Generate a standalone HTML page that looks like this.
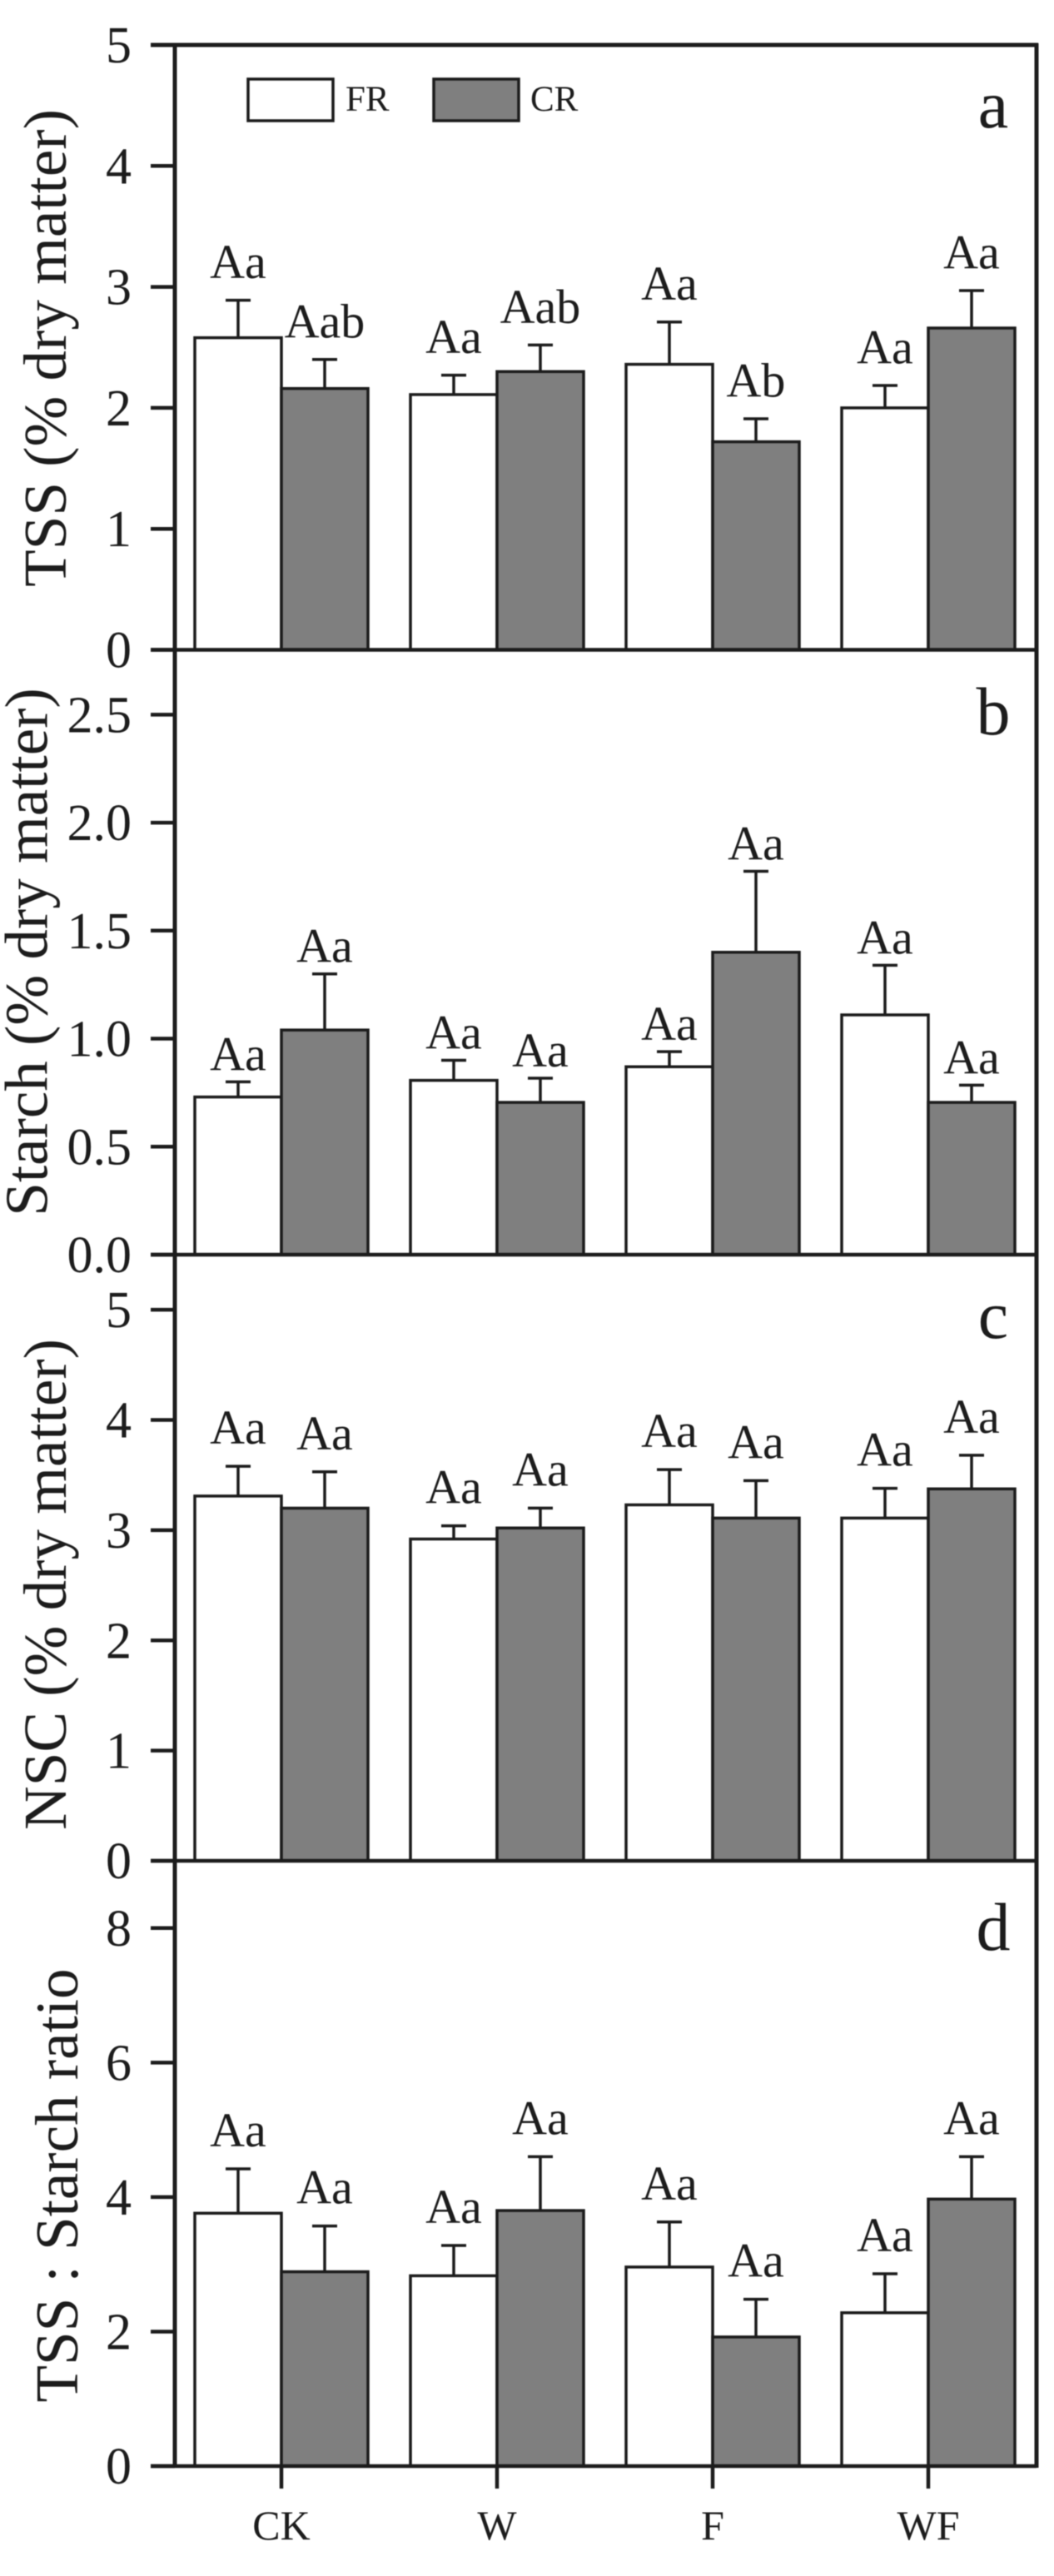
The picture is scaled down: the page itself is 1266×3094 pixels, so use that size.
<!DOCTYPE html>
<html lang="en">
<head>
<meta charset="utf-8">
<title>TSS, starch, NSC and TSS:starch ratio in FR and CR</title>
<style>
  html, body { margin: 0; padding: 0; background: #fff; }
  #chart { display: block; width: 1266px; height: 3094px; filter: blur(0.6px); }
  text { font-family: "Liberation Serif", "Times New Roman", serif; fill: #1c1c1c; }
</style>
</head>
<body>
<svg id="chart" xmlns="http://www.w3.org/2000/svg" width="1266" height="3094" viewBox="0 0 1266 3094">
  <rect x="0" y="0" width="1266" height="3094" fill="#ffffff"></rect>
  <g id="plots"></g>
  <g id="legend">
    <rect x="298" y="95" width="102" height="50" fill="#ffffff" stroke="#1c1c1c" stroke-width="3.5"></rect>
    <text x="415" y="133" font-size="43">FR</text>
    <rect x="521" y="95" width="102" height="50" fill="#7f7f7f" stroke="#1c1c1c" stroke-width="3.5"></rect>
    <text x="637" y="133" font-size="43">CR</text>
  </g>
</svg>
<script>
// ---- Data ----
const categories = ['CK', 'W', 'F', 'WF'];

const tssTicks = ['0', '1', '2', '3', '4', '5'];
const tssFR = [2.58, 2.11, 2.36, 2.00];
const tssFRErr = [0.31, 0.16, 0.35, 0.185];
const tssCR = [2.16, 2.30, 1.72, 2.66];
const tssCRErr = [0.24, 0.22, 0.19, 0.31];
const tssFRLabels = ['Aa', 'Aa', 'Aa', 'Aa'];
const tssCRLabels = ['Aab', 'Aab', 'Ab', 'Aa'];

const starchTicks = ['0.0', '0.5', '1.0', '1.5', '2.0', '2.5'];
const starchFR = [0.73, 0.807, 0.87, 1.11];
const starchFRErr = [0.07, 0.093, 0.07, 0.23];
const starchCR = [1.04, 0.705, 1.40, 0.705];
const starchCRErr = [0.26, 0.112, 0.375, 0.08];
const starchFRLabels = ['Aa', 'Aa', 'Aa', 'Aa'];
const starchCRLabels = ['Aa', 'Aa', 'Aa', 'Aa'];

const nscTicks = ['0', '1', '2', '3', '4', '5'];
const nscFR = [3.31, 2.92, 3.23, 3.11];
const nscFRErr = [0.27, 0.12, 0.32, 0.27];
const nscCR = [3.20, 3.02, 3.11, 3.375];
const nscCRErr = [0.33, 0.18, 0.34, 0.305];
const nscFRLabels = ['Aa', 'Aa', 'Aa', 'Aa'];
const nscCRLabels = ['Aa', 'Aa', 'Aa', 'Aa'];

const ratioTicks = ['0', '2', '4', '6', '8'];
const ratioFR = [3.76, 2.83, 2.96, 2.28];
const ratioFRErr = [0.66, 0.45, 0.67, 0.58];
const ratioCR = [2.89, 3.80, 1.92, 3.97];
const ratioCRErr = [0.68, 0.80, 0.56, 0.63];
const ratioFRLabels = ['Aa', 'Aa', 'Aa', 'Aa'];
const ratioCRLabels = ['Aa', 'Aa', 'Aa', 'Aa'];

// ---- Layout ----
const SVG_NS = 'http://www.w3.org/2000/svg';
const INK = '#1c1c1c';
const GREY = '#7f7f7f';
const AXIS_LEFT = 210;
const AXIS_RIGHT = 1245;
const GROUP_FIRST = 338;
const GROUP_STEP = 259;
const BAR_WIDTH = 104;
const CAP_WIDTH = 30;

const panels = [
  { id: 'a', top: 54, bottom: 780.5, max: 5, ticks: tssTicks, fr: tssFR, frErr: tssFRErr, cr: tssCR, crErr: tssCRErr,
    frLabels: tssFRLabels, crLabels: tssCRLabels, labelGap: 26.5, letterY: 153,
    title: 'TSS (% dry matter)', titleX: 79, titleY: 418 },
  { id: 'b', top: 780.5, bottom: 1507, max: 2.8, ticks: starchTicks, fr: starchFR, frErr: starchFRErr, cr: starchCR, crErr: starchCRErr,
    frLabels: starchFRLabels, crLabels: starchCRLabels, labelGap: 14, letterY: 882,
    title: 'Starch (% dry matter)', titleX: 56.5, titleY: 1143.5 },
  { id: 'c', top: 1507, bottom: 2235, max: 5.5, ticks: nscTicks, fr: nscFR, frErr: nscFRErr, cr: nscCR, crErr: nscCRErr,
    frLabels: nscFRLabels, crLabels: nscCRLabels, labelGap: 27, letterY: 1607,
    title: 'NSC (% dry matter)', titleX: 79, titleY: 1903 },
  { id: 'd', top: 2235, bottom: 2962, max: 9, ticks: ratioTicks, fr: ratioFR, frErr: ratioFRErr, cr: ratioCR, crErr: ratioCRErr,
    frLabels: ratioFRLabels, crLabels: ratioCRLabels, labelGap: 27, letterY: 2342,
    title: 'TSS : Starch ratio', titleX: 93, titleY: 2625 }
];

function xScale(i) { return GROUP_FIRST + GROUP_STEP * i; }
function yScale(p, v) { return p.bottom - (v / p.max) * (p.bottom - p.top); }

const root = document.getElementById('plots');

function mk(parent, tag, attrs, name, content) {
  const el = document.createElementNS(SVG_NS, tag);
  Object.keys(attrs).forEach(function (k) { el.setAttribute(k, attrs[k]); });
  
  
  if (content !== undefined) el.textContent = content;
  parent.appendChild(el);
  return el;
}

function drawSeries(g, p, i, values, errs, labels, seriesName, offsetDir, fill) {
  const cat = categories[i].toLowerCase();
  const cx = xScale(i) + offsetDir * BAR_WIDTH / 2;
  const yVal = yScale(p, values[i]);
  const yErr = yScale(p, values[i] + errs[i]);
  mk(g, 'line', { x1: cx, x2: cx, y1: yVal, y2: yErr, stroke: INK, 'stroke-width': 3.5 }, 'error-stem-' + seriesName + '-' + cat);
  mk(g, 'line', { x1: cx - CAP_WIDTH / 2, x2: cx + CAP_WIDTH / 2, y1: yErr, y2: yErr, stroke: INK, 'stroke-width': 3.5 }, 'error-cap-' + seriesName + '-' + cat);
  mk(g, 'rect', { x: cx - BAR_WIDTH / 2, y: yVal, width: BAR_WIDTH, height: p.bottom - yVal, fill: fill, stroke: INK, 'stroke-width': 3.5 }, 'bar-' + seriesName + '-' + cat);
  mk(g, 'text', { x: cx, y: yErr - p.labelGap, 'font-size': 58, 'text-anchor': 'middle' }, 'significance-label-' + seriesName + '-' + cat, labels[i]);
}

panels.forEach(function (p) {
  const g = mk(root, 'g', {}, 'panel-' + p.id);

  categories.forEach(function (c, i) {
    drawSeries(g, p, i, p.fr, p.frErr, p.frLabels, 'fr', -1, '#ffffff');
    drawSeries(g, p, i, p.cr, p.crErr, p.crLabels, 'cr', 1, GREY);
  });

  p.ticks.forEach(function (t) {
    const y = yScale(p, parseFloat(t));
    mk(g, 'line', { x1: 181, x2: AXIS_LEFT, y1: y, y2: y, stroke: INK, 'stroke-width': 4.5 }, 'y-tick-' + p.id + '-' + t);
    mk(g, 'text', { x: 158, y: y + 21, 'font-size': 62, 'text-anchor': 'end' }, 'y-tick-label-' + p.id + '-' + t, t);
  });

  // horizontal baseline of the panel
  mk(g, 'line', { x1: 181, x2: AXIS_RIGHT, y1: p.bottom, y2: p.bottom, stroke: INK, 'stroke-width': 4.5 }, 'x-axis-line-' + p.id);

  mk(g, 'text', {
    x: p.titleX, y: p.titleY, 'font-size': 73, 'text-anchor': 'middle',
    transform: 'rotate(-90 ' + p.titleX + ' ' + p.titleY + ')'
  }, 'y-axis-title-' + p.id, p.title);

  mk(g, 'text', { x: 1193, y: p.letterY, 'font-size': 82, 'text-anchor': 'middle' }, 'panel-letter-' + p.id, p.id);
});

// frame: top edge and the two verticals spanning all panels
const first = panels[0];
const last = panels[panels.length - 1];
mk(root, 'line', { x1: 181, x2: AXIS_RIGHT + 2, y1: first.top, y2: first.top, stroke: INK, 'stroke-width': 5 }, 'top-border');
mk(root, 'line', { x1: AXIS_LEFT, x2: AXIS_LEFT, y1: first.top, y2: last.bottom, stroke: INK, 'stroke-width': 5 }, 'left-y-axis');
mk(root, 'line', { x1: AXIS_RIGHT, x2: AXIS_RIGHT, y1: first.top - 2, y2: last.bottom + 2, stroke: INK, 'stroke-width': 5 }, 'right-border');

// bottom category axis
categories.forEach(function (c, i) {
  const x = xScale(i);
  mk(root, 'line', { x1: x, x2: x, y1: last.bottom, y2: last.bottom + 27, stroke: INK, 'stroke-width': 4.5 }, 'x-tick-' + c.toLowerCase());
  mk(root, 'text', { x: x, y: 3050, 'font-size': 50, 'text-anchor': 'middle' }, 'x-tick-label-' + c.toLowerCase(), c);
});
</script>
</body>
</html>
